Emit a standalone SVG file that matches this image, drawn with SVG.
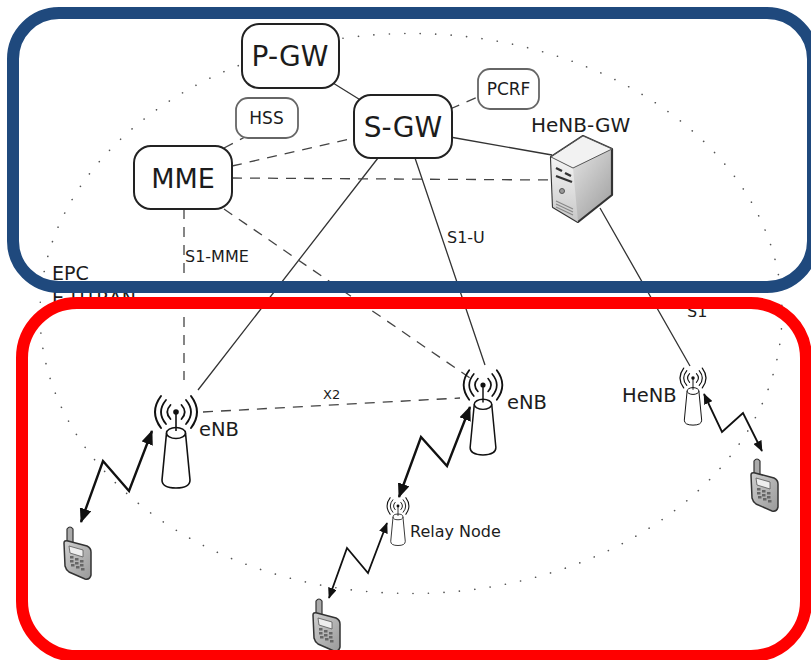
<svg xmlns="http://www.w3.org/2000/svg" width="811" height="660" viewBox="0 0 811 660">
<style>
text{font-family:"DejaVu Sans","Liberation Sans",sans-serif;fill:#1c1c1c}
.box{fill:#fff;stroke:#222;stroke-width:2}
.box2{fill:#fff;stroke:#666;stroke-width:1.8}
.s{fill:none;stroke:#333;stroke-width:1.3}
.d{fill:none;stroke:#444;stroke-width:1.3;stroke-dasharray:10 8}
.z{fill:none;stroke:#111;stroke-width:2.4;stroke-linejoin:miter;marker-start:url(#ah);marker-end:url(#ah)}
.zs{fill:none;stroke:#111;stroke-width:1.8;marker-start:url(#ah);marker-end:url(#ah)}
.frame{fill:none;stroke-width:12}
.arc{fill:none;stroke:#111;stroke-linecap:round}
</style>
<defs>
<marker id="ah" markerWidth="6" markerHeight="5" refX="5.600" refY="2.500" orient="auto-start-reverse" markerUnits="strokeWidth"><path d="M0,0 L6,2.500 L0,5 Z" fill="#111"/></marker>
<linearGradient id="gf" x1="0" y1="0" x2="0" y2="1"><stop offset="0" stop-color="#f5f5f5"/><stop offset="1" stop-color="#c8c8c8"/></linearGradient>
<linearGradient id="gr" x1="0" y1="0" x2="1" y2="1"><stop offset="0" stop-color="#fdfdfd"/><stop offset="1" stop-color="#9a9a9a"/></linearGradient>
<linearGradient id="gp" x1="0" y1="0" x2="1" y2="1"><stop offset="0" stop-color="#cfcfcf"/><stop offset="1" stop-color="#999"/></linearGradient>
<g id="tower">
<path class="arc" stroke-width="2" d="M-15,-16 Q-27,0 -15,16 M15,-16 Q27,0 15,16"/>
<path class="arc" stroke-width="1.800" d="M-10,-12 Q-20,0 -10,12 M10,-12 Q20,0 10,12"/>
<path class="arc" stroke-width="1.800" d="M-5.500,-7 Q-12,0 -5.500,7 M5.500,-7 Q12,0 5.500,7"/>
<circle r="2.800" fill="#111"/>
<path d="M-9.500,21 L-14,68 Q-14,76 0,76 Q14,76 14,68 L9.500,21" fill="#fff" stroke="#111" stroke-width="1.600"/>
<ellipse cy="21" rx="9.500" ry="5.500" fill="#fff" stroke="#111" stroke-width="1.600"/>
<path d="M0,0V19" stroke="#111" stroke-width="1.600"/>
</g>
<g id="phone">
<path d="M4,15 L4,3 Q7,-1 10,3 L10,17 Z" fill="#aaa" stroke="#333" stroke-width="1.200"/>
<path d="M1,17 Q1,14 5,15 L24,20 Q28,22 28,26 L28,49 Q27,54 22,53 L6,46 Q3,44 2,40 Z" fill="url(#gp)" stroke="#333" stroke-width="1.500"/>
<path d="M6,20 L20,24 L20,31 L7,27 Z" fill="#eee" stroke="#555" stroke-width=".8"/>
<g fill="#666"><rect x="7" y="30" width="3.500" height="2.500"/><rect x="12" y="32" width="3.500" height="2.500"/><rect x="17" y="34" width="3.500" height="2.500"/><rect x="7" y="34" width="3.500" height="2.500"/><rect x="12" y="36" width="3.500" height="2.500"/><rect x="17" y="38" width="3.500" height="2.500"/><rect x="8" y="38" width="3.500" height="2.500"/><rect x="13" y="40" width="3.500" height="2.500"/><rect x="18" y="42" width="3.500" height="2.500"/></g>
</g>
</defs>
<rect width="811" height="660" fill="#fff"/>
<ellipse id="boundary" cx="411" cy="313.500" rx="371" ry="280" fill="none" stroke="#555" stroke-width="1.600" stroke-linecap="round" stroke-dasharray="0.1 15.400"/>
<g id="connectors">
<path class="s" d="M333,83L362,101M450,137L552,155M378,158L198,390M415,158L485,365M600,208L690,366"/>
<path class="d" d="M184,209V380M224,209L470,378M224,148L245,137M232,166L354,138M232,178L552,180M450,109L478,97M203,412L460,398"/>
<path class="z" d="M81,522L103,461L129,491L152,431"/>
<path class="z" d="M399,497L421,437L447,466L470,407"/>
<path class="zs" d="M329,598L347,548L368,573L387,523"/>
<path class="zs" d="M704,394L722,432L743,413L762,451"/>
</g>
<g id="labels">
<text x="52" y="280" font-size="19">EPC</text>
<text x="52" y="305" font-size="19">E-UTRAN</text>
<text x="185" y="262" font-size="16">S1-MME</text>
<text x="447" y="243" font-size="16">S1-U</text>
<text x="687" y="317" font-size="16">S1</text>
<text x="323" y="399" font-size="13">X2</text>
</g>
<g id="pgw"><rect class="box" x="242" y="24" width="97" height="64" rx="17"/><text x="290" y="66" font-size="28" text-anchor="middle">P-GW</text></g>
<g id="sgw"><rect class="box" x="354" y="95" width="98" height="63" rx="17"/><text x="403" y="137" font-size="28" text-anchor="middle">S-GW</text></g>
<g id="mme"><rect class="box" x="134" y="146" width="98" height="63" rx="17"/><text x="183" y="188" font-size="27" text-anchor="middle">MME</text></g>
<g id="hss"><rect class="box2" x="236" y="98" width="62" height="40" rx="12"/><text x="266.500" y="124" font-size="17" text-anchor="middle">HSS</text></g>
<g id="pcrf"><rect class="box2" x="478" y="69" width="61" height="40" rx="12"/><text x="508.500" y="95" font-size="17" text-anchor="middle">PCRF</text></g>
<g id="henb-gw">
<text x="531" y="132" font-size="20">HeNB-GW</text>
<path d="M551,157 L583,136 L612,149 L612,195 L578,222 L553,207 Z" fill="url(#gr)" stroke="#333" stroke-width="2.200" stroke-linejoin="round"/>
<path d="M551,157 L573,168 L578,222 L553,207 Z" fill="url(#gf)"/>
<path d="M551,157 L583,136 L612,149 L573,168 Z" fill="#f2f2f2" stroke="#555" stroke-width="1" stroke-linejoin="round"/>
<path d="M556,168L562,171M565,173L571,176M556,176L572,182" stroke="#333" stroke-width="2.400" fill="none"/>
<circle cx="562" cy="191" r="2.500" fill="#999" stroke="#555"/>
<path d="M556,201L573,209M556,204L573,212M556,207L573,215" stroke="#888" stroke-width="1.200" fill="none"/>
</g>
<g id="enb1"><use href="#tower" transform="translate(176,412)"/><text x="199" y="436" font-size="19.500">eNB</text></g>
<g id="enb2"><use href="#tower" transform="translate(483,385) scale(.92)"/><text x="507" y="409" font-size="19.500">eNB</text></g>
<g id="relay"><use href="#tower" transform="translate(398,506) scale(.52)"/><text x="410" y="537" font-size="16">Relay Node</text></g>
<g id="henb"><use href="#tower" transform="translate(693,378) scale(.62)"/><text x="622" y="402" font-size="19.500">HeNB</text></g>
<use id="phone1" href="#phone" transform="translate(63,526)"/>
<use id="phone2" href="#phone" transform="translate(312,598)"/>
<use id="phone3" href="#phone" transform="translate(750,458)"/>
<g id="frames">
<rect class="frame" x="13" y="13" width="800" height="274" rx="46" stroke="#1f497d"/>
<rect class="frame" x="22" y="303" width="784" height="353" rx="55" stroke="#f00"/>
</g>
</svg>
